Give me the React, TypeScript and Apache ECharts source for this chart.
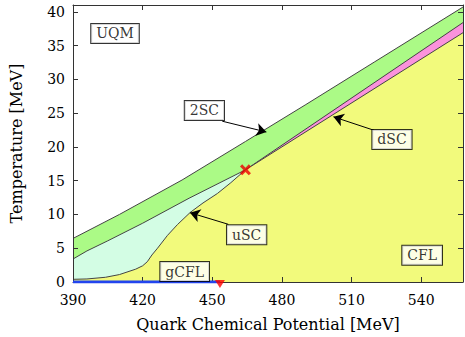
import React, { useEffect, useRef } from "react";
import * as echarts from "echarts";

// Phase boundaries (mu in MeV, T in MeV)
const MU_UQM_2SC = [390, 410, 437, 464.3, 490, 520, 558];
const T_UQM_2SC = [6.45, 10.0, 15.1, 20.8, 26.2, 32.6, 40.7];

const MU_2SC_USC = [390, 396, 405, 420, 440, 464.3];
const T_2SC_USC = [3.4, 4.6, 6.1, 8.7, 12.4, 16.6];

const MU_2SC_DSC = [464.3, 558];
const T_2SC_DSC = [16.6, 38.4];

const MU_USC_CFL = [390, 396, 404, 410, 417, 420, 422, 424, 426.4, 430.7, 435, 440.5, 446, 452.2, 458, 464.3];
const T_USC_CFL = [0.4, 0.45, 0.7, 1.1, 1.9, 2.4, 3.0, 4.0, 5.0, 6.9, 8.5, 10.3, 11.7, 13.1, 14.7, 16.6];

const MU_DSC_CFL = [464.3, 558];
const T_DSC_CFL = [16.6, 36.9];

const MU_GCFL = [390, 453.3];
const T_GCFL = [0, 0];

const TRICRITICAL = [464.3, 16.6];
const GCFL_END = [453.3, 0];

const LABEL_NAMES = ["UQM", "2SC", "dSC", "uSC", "gCFL", "CFL"];
const LABEL_MU = [408.1, 446.6, 527.4, 464.8, 438.1, 540.4];
const LABEL_T = [36.8, 25.4, 21.1, 7.0, 1.55, 3.97];

const ARROW_FROM = [[454.3, 23.8], [519.7, 22.45], [456.9, 8.54]];
const ARROW_TO = [[473.3, 22.2], [502.2, 24.45], [440.4, 10.26]];

const X_MIN = 390;
const X_MAX = 558;
const X_INT = 30;
const Y_MIN = 0;
const Y_MAX = 41;
const Y_INT = 5;

const FONT = "DejaVu Serif";
const zip = (a: number[], b: number[]) => a.map((v, i) => [v, b[i]]);

export default function App() {
  const ref = useRef<HTMLDivElement>(null);
  useEffect(() => {
    document.body.style.margin = "0";
    const chart = echarts.init(ref.current!, null, { renderer: "svg" });
    const edge = { color: "#444", width: 1 };
    const areaSeries = (data: number[][], color: string, z: number) => ({
      type: "line",
      data,
      symbol: "none",
      lineStyle: edge,
      areaStyle: { color, opacity: 1, origin: "start" },
      z,
      silent: true,
    });
    const tickAxisX = (pos: string, labels: boolean) => ({
      type: "value",
      position: pos,
      min: X_MIN,
      max: X_MAX,
      interval: X_INT,
      z: 10,
      axisLine: { show: true, onZero: false, lineStyle: { color: "#333", width: 1 } },
      axisTick: { show: true, inside: true, length: 5, lineStyle: { color: "#333" } },
      splitLine: { show: false },
      axisLabel: {
        show: labels,
        showMaxLabel: false,
        margin: 11,
        color: "#000",
        fontSize: 14,
        fontFamily: FONT,
        formatter: (v: number) => (v % X_INT === 0 ? String(v) : ""),
      },
    });
    const tickAxisY = (pos: string, labels: boolean) => ({
      type: "value",
      position: pos,
      min: Y_MIN,
      max: Y_MAX,
      interval: Y_INT,
      z: 10,
      axisLine: { show: true, onZero: false, lineStyle: { color: "#333", width: 1 } },
      axisTick: { show: true, inside: true, length: 5, lineStyle: { color: "#333" } },
      splitLine: { show: false },
      axisLabel: {
        show: labels,
        showMaxLabel: false,
        margin: 8,
        color: "#000",
        fontSize: 14,
        fontFamily: FONT,
        formatter: (v: number) => (v % Y_INT === 0 ? String(v) : ""),
      },
    });
    const xBottom: any = tickAxisX("bottom", true);
    xBottom.name = "Quark Chemical Potential [MeV]";
    xBottom.nameLocation = "middle";
    xBottom.nameGap = 34;
    xBottom.nameTextStyle = { fontSize: 16, fontFamily: FONT, color: "#000" };
    const yLeft: any = tickAxisY("left", true);
    yLeft.name = "Temperature [MeV]";
    yLeft.nameLocation = "middle";
    yLeft.nameGap = 49;
    yLeft.nameTextStyle = { fontSize: 16, fontFamily: FONT, color: "#000" };

    chart.setOption({
      animation: false,
      backgroundColor: "#fff",
      grid: { left: 72, right: 2, top: 5, bottom: 55 },
      xAxis: [xBottom, tickAxisX("top", false)],
      yAxis: [yLeft, tickAxisY("right", false)],
      series: [
        areaSeries(zip(MU_UQM_2SC, T_UQM_2SC), "#abfa86", 2),
        areaSeries(zip(MU_2SC_USC, T_2SC_USC), "#d3fde4", 3),
        areaSeries(zip(MU_2SC_DSC, T_2SC_DSC), "#fb92dc", 3),
        areaSeries(
          zip(MU_USC_CFL, T_USC_CFL).concat(zip(MU_DSC_CFL, T_DSC_CFL).slice(1)),
          "#f2fa7c",
          4
        ),
        {
          type: "line",
          data: zip(MU_GCFL, T_GCFL),
          symbol: "none",
          lineStyle: { color: "#2244ee", width: 3 },
          z: 20,
          silent: true,
        },
        {
          type: "scatter",
          data: [GCFL_END],
          symbol: "triangle",
          symbolRotate: 180,
          symbolSize: [10, 8],
          symbolOffset: [0, 2],
          itemStyle: { color: "#ff0000" },
          z: 21,
          silent: true,
        },
        {
          type: "scatter",
          data: [TRICRITICAL],
          symbol:
            "path://M2,0 L5,3 L8,0 L10,2 L7,5 L10,8 L8,10 L5,7 L2,10 L0,8 L3,5 L0,2 Z",
          symbolSize: 11,
          itemStyle: { color: "#ee0000" },
          z: 21,
          silent: true,
        },
        {
          type: "lines",
          coordinateSystem: "cartesian2d",
          data: ARROW_FROM.map((f, i) => ({ coords: [f, ARROW_TO[i]] })),
          symbol: ["none", "arrow"],
          symbolSize: 10,
          lineStyle: { color: "#000", width: 1, opacity: 1 },
          z: 22,
          silent: true,
        },
        {
          type: "scatter",
          data: LABEL_NAMES.map((n, i) => ({ name: n, value: [LABEL_MU[i], LABEL_T[i]] })),
          symbolSize: 1,
          itemStyle: { color: "rgba(0,0,0,0)" },
          z: 23,
          silent: true,
          label: {
            show: true,
            position: "inside",
            formatter: (p: any) => p.name,
            color: "#000",
            fontSize: 14,
            fontFamily: FONT,
            backgroundColor: "#fff",
            borderColor: "#000",
            borderWidth: 1,
            padding: [3, 5, 2, 5],
          },
        },
      ],
    });
    return () => chart.dispose();
  }, []);
  return <div ref={ref} style={{ width: 465, height: 337 }} />;
}
